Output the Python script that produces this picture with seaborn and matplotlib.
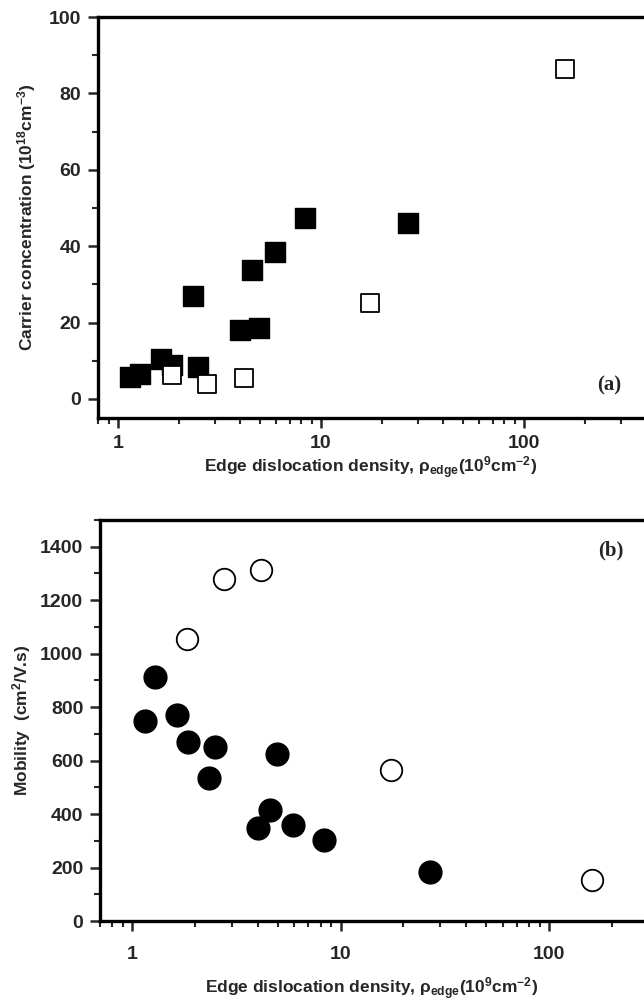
import numpy as np
import pandas as pd
import seaborn as sns
import matplotlib.pyplot as plt
from matplotlib.ticker import LogLocator, NullFormatter, FixedLocator, MultipleLocator

# 位错密度 (10^9 cm^-2)
edge_filled = [1.15, 1.29, 1.63, 1.85, 2.34, 2.48, 3.99, 4.57, 4.95, 5.93, 8.33, 26.9]
edge_open = [1.84, 2.74, 4.16, 17.4, 160]

# 载流子浓度 (10^18 cm^-3)
carrier_filled = [5.7, 6.5, 10.4, 9.0, 27.0, 8.3, 18.0, 33.8, 18.5, 38.5, 47.5, 46.0]
carrier_open = [6.3, 3.9, 5.5, 25.0, 86.3]

# 迁移率 (cm^2/V.s)
mobility_filled = [750, 912, 769, 668, 534, 652, 349, 414, 626, 358, 302, 182]
mobility_open = [1055, 1280, 1313, 564, 155]

sns.set_theme(style="ticks")
plt.rcParams["font.family"] = ["Liberation Sans", "DejaVu Sans"]
plt.rcParams["font.weight"] = "bold"
plt.rcParams["mathtext.fontset"] = "custom"
plt.rcParams["mathtext.rm"] = "Liberation Sans:bold"
plt.rcParams["mathtext.bf"] = "Liberation Sans:bold"
plt.rcParams["mathtext.default"] = "bf"

df_filled = pd.DataFrame({"edge": edge_filled, "carrier": carrier_filled, "mobility": mobility_filled})
df_open = pd.DataFrame({"edge": edge_open, "carrier": carrier_open, "mobility": mobility_open})

fig = plt.figure(figsize=(6.44, 10.08), dpi=100)
ax1 = fig.add_axes([98 / 644, 1 - 418 / 1008, 546 / 644, 401 / 1008])
ax2 = fig.add_axes([100 / 644, 1 - 921 / 1008, 544 / 644, 401 / 1008])

# (a) 载流子浓度
sns.scatterplot(data=df_filled, x="edge", y="carrier", marker="s", s=190,
                color="black", edgecolor="black", linewidth=1, ax=ax1, zorder=3)
sns.scatterplot(data=df_open, x="edge", y="carrier", marker="s", s=170,
                color="white", edgecolor="black", linewidth=1.3, ax=ax1, zorder=4)

# (b) 迁移率
sns.scatterplot(data=df_filled, x="edge", y="mobility", marker="o", s=270,
                color="black", edgecolor="black", linewidth=1, ax=ax2, zorder=3)
sns.scatterplot(data=df_open, x="edge", y="mobility", marker="o", s=240,
                color="white", edgecolor="black", linewidth=1.3, ax=ax2, zorder=4)

xlabel = "Edge dislocation density, ρ$_{edge}$(10$^{9}$cm$^{-2}$)"

# 两个子图的横轴设置 (范围, 刻度标签间距, 轴标题间距)
for ax, xlim, tpad, lpad in [(ax1, (0.797, 390), 5, 2), (ax2, (0.70, 285), 11, 9)]:
    ax.set_xscale("log")
    ax.set_xlim(*xlim)
    ax.xaxis.set_major_locator(FixedLocator([1, 10, 100]))
    ax.xaxis.set_minor_locator(LogLocator(base=10, subs=np.arange(2, 10), numticks=20))
    ax.xaxis.set_minor_formatter(NullFormatter())
    ax.set_xticklabels(["1", "10", "100"])
    for side in ["left", "bottom", "top"]:
        ax.spines[side].set_linewidth(2.4)
        ax.spines[side].set_color("black")
    ax.spines["right"].set_linewidth(0.6)
    ax.spines["right"].set_color("#888888")
    ax.tick_params(which="major", direction="out", length=7, width=1.8, labelsize=14, pad=5,
                   right=False, top=False)
    ax.tick_params(which="minor", direction="out", length=4, width=1.5, right=False, top=False)
    ax.tick_params(axis="x", which="major", pad=tpad)
    ax.set_xlabel(xlabel, fontsize=12.5, fontweight="bold", labelpad=lpad)

ax1.set_ylim(-5, 100)
ax1.yaxis.set_major_locator(MultipleLocator(20))
ax1.yaxis.set_minor_locator(MultipleLocator(10))
ax1.set_ylabel("Carrier concentration (10$^{18}$cm$^{-3}$)", fontsize=12.5, fontweight="bold", labelpad=8)
ax1.text(0.958, 0.08, "(a)", transform=ax1.transAxes, ha="right", va="center",
         fontsize=15, fontweight="bold", family=["Liberation Serif", "DejaVu Serif"])

ax2.set_ylim(0, 1500)
ax2.yaxis.set_major_locator(MultipleLocator(200))
ax2.yaxis.set_minor_locator(MultipleLocator(100))
ax2.set_ylabel("Mobility  (cm$^{2}$/V.s)", fontsize=12.5, fontweight="bold", labelpad=5)
ax2.text(0.962, 0.925, "(b)", transform=ax2.transAxes, ha="right", va="center",
         fontsize=15, fontweight="bold", family=["Liberation Serif", "DejaVu Serif"])

for lab in ax1.get_xticklabels() + ax1.get_yticklabels() + ax2.get_xticklabels() + ax2.get_yticklabels():
    lab.set_fontweight("bold")

plt.savefig("out.png", dpi=100)
